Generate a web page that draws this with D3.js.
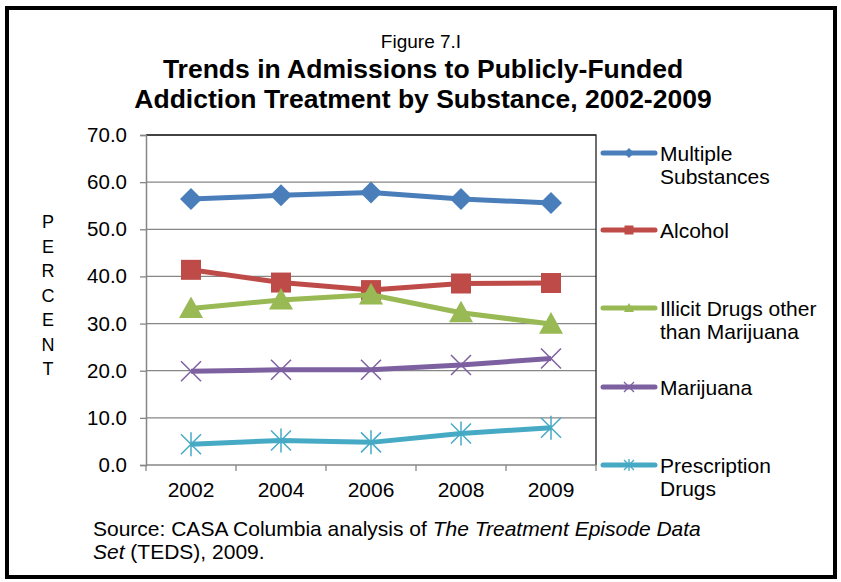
<!DOCTYPE html>
<html>
<head>
<meta charset="utf-8">
<script src="https://cdn.jsdelivr.net/npm/d3@7"></script>
<style>
  body { margin: 0; background: #fff; }
  svg { font-family: "Liberation Sans", Arial, sans-serif; }
</style>
</head>
<body>
<svg id="chart" width="841" height="582"></svg>
<script>
// data
var years = ["2002", "2004", "2006", "2008", "2009"];
var multiple = [56.4, 57.2, 57.8, 56.4, 55.6];
var alcohol = [41.4, 38.7, 37.1, 38.5, 38.6];
var illicit = [33.2, 35.0, 36.1, 32.3, 29.9];
var marijuana = [19.9, 20.2, 20.2, 21.2, 22.6];
var prescription = [4.4, 5.2, 4.8, 6.7, 7.9];
var yTicks = [0, 10, 20, 30, 40, 50, 60, 70];

var series = [
  {name: ["Multiple", "Substances"], values: multiple, color: "#4a7ebb", marker: "diamond"},
  {name: ["Alcohol"], values: alcohol, color: "#be4b48", marker: "square"},
  {name: ["Illicit Drugs other", "than Marijuana"], values: illicit, color: "#98b954", marker: "triangle"},
  {name: ["Marijuana"], values: marijuana, color: "#7d60a0", marker: "x"},
  {name: ["Prescription", "Drugs"], values: prescription, color: "#46aac5", marker: "star"}
];

var svg = d3.select("#chart");
var plot = {left: 146, right: 596, top: 135, bottom: 465};
var fs = 21; // body text size

// outer frame
svg.append("rect").attr("x", 7).attr("y", 8).attr("width", 828).attr("height", 569)
  .attr("fill", "none").attr("stroke", "#000").attr("stroke-width", 4);

// titles
svg.append("text").attr("x", 421).attr("y", 48).attr("text-anchor", "middle")
  .attr("font-size", 19).text("Figure 7.I");
svg.append("text").attr("x", 423).attr("y", 78).attr("text-anchor", "middle")
  .attr("font-size", 26.5).attr("font-weight", "bold").text("Trends in Admissions to Publicly-Funded");
svg.append("text").attr("x", 423).attr("y", 108).attr("text-anchor", "middle")
  .attr("font-size", 26.5).attr("font-weight", "bold").text("Addiction Treatment by Substance, 2002-2009");

var x = d3.scaleBand().domain(years).range([plot.left, plot.right]);
var y = d3.scaleLinear().domain([0, 70]).range([plot.bottom, plot.top]);

// gridlines
svg.append("g").selectAll("line").data(yTicks.slice(1)).enter().append("line")
  .attr("x1", plot.left).attr("x2", plot.right)
  .attr("y1", function(d){ return y(d); }).attr("y2", function(d){ return y(d); })
  .attr("stroke", "#868686").attr("stroke-width", 1.3);

// plot area border top/right
svg.append("path")
  .attr("d", "M" + plot.left + "," + plot.top + "H" + plot.right + "V" + plot.bottom)
  .attr("fill", "none").attr("stroke", "#222").attr("stroke-width", 1.3);

// y axis
var yAxis = svg.append("g").attr("transform", "translate(" + plot.left + ",0)")
  .call(d3.axisLeft(y).tickValues(yTicks).tickFormat(d3.format(".1f")).tickSize(6).tickPadding(13));
yAxis.select(".domain").attr("stroke", "#868686").attr("stroke-width", 1.5);
yAxis.selectAll(".tick line").attr("stroke", "#868686").attr("stroke-width", 1.3);
yAxis.selectAll("text").attr("font-size", 20.5).attr("fill", "#000")
  .attr("font-family", "'Liberation Sans', Arial, sans-serif");

// x axis with ticks at category boundaries
var xAxisG = svg.append("g").attr("transform", "translate(0," + plot.bottom + ")");
xAxisG.append("line").attr("x1", plot.left).attr("x2", plot.right)
  .attr("stroke", "#868686").attr("stroke-width", 1.5);
var bounds = years.map(function(d){ return x(d); }).concat([x(years[years.length - 1]) + x.bandwidth()]);
xAxisG.selectAll(".tk").data(bounds).enter().append("line")
  .attr("x1", function(d){ return d; }).attr("x2", function(d){ return d; })
  .attr("y1", 0).attr("y2", 6).attr("stroke", "#868686").attr("stroke-width", 1.3);
xAxisG.selectAll("text").data(years).enter().append("text")
  .attr("x", function(d){ return x(d) + x.bandwidth() / 2; })
  .attr("y", 32).attr("text-anchor", "middle").attr("font-size", fs).text(function(d){ return d; });

// y title: stacked letters
svg.append("g").selectAll("text").data("PERCENT".split("")).enter().append("text")
  .attr("x", 48).attr("y", function(d, i){ return 228 + i * 24.5; })
  .attr("text-anchor", "middle").attr("font-size", 18).text(function(d){ return d; });

function markerPath(type, s) {
  var h = s / 2;
  if (type === "diamond") return "M0," + (-h) + "L" + h + ",0L0," + h + "L" + (-h) + ",0Z";
  if (type === "square") return "M" + (-h) + "," + (-h) + "H" + h + "V" + h + "H" + (-h) + "Z";
  if (type === "triangle") return "M0," + (-h) + "L" + h + "," + (h * 0.8) + "L" + (-h) + "," + (h * 0.8) + "Z";
  if (type === "x") return "M" + (-h) + "," + (-h) + "L" + h + "," + h + "M" + (-h) + "," + h + "L" + h + "," + (-h);
  return "M" + (-h) + "," + (-h) + "L" + h + "," + h + "M" + (-h) + "," + h + "L" + h + "," + (-h) +
    "M0," + (-h * 1.2) + "V" + (h * 1.2);
}

var line = d3.line()
  .x(function(d, i){ return x(years[i]) + x.bandwidth() / 2; })
  .y(function(d){ return y(d); });

series.forEach(function(s) {
  var g = svg.append("g");
  g.append("path").attr("d", line(s.values)).attr("fill", "none")
    .attr("stroke", s.color).attr("stroke-width", 5).attr("stroke-linejoin", "round");
  var stroked = (s.marker === "x" || s.marker === "star");
  var size = s.marker === "diamond" ? 22 : (s.marker === "square" ? 20 : (s.marker === "triangle" ? 24 : 20));
  g.selectAll("path.m").data(s.values).enter().append("path").attr("class", "m")
    .attr("transform", function(d, i){ return "translate(" + (x(years[i]) + x.bandwidth() / 2) + "," + y(d) + ")"; })
    .attr("d", markerPath(s.marker, size))
    .attr("fill", stroked ? "none" : s.color)
    .attr("stroke", s.color).attr("stroke-width", stroked ? 1.5 : 0);
});

// legend
var legendY = [153, 230, 308, 387, 465];
series.forEach(function(s, i) {
  var g = svg.append("g").attr("transform", "translate(0," + legendY[i] + ")");
  g.append("line").attr("x1", 603).attr("x2", 655).attr("stroke", s.color)
    .attr("stroke-width", 5).attr("stroke-linecap", "round");
  var stroked = (s.marker === "x" || s.marker === "star");
  g.append("path").attr("transform", "translate(629,0)")
    .attr("d", markerPath(s.marker, s.marker === "square" ? 9 : 10))
    .attr("fill", stroked ? "none" : s.color)
    .attr("stroke", s.color).attr("stroke-width", stroked ? 1.3 : 0);
  g.selectAll("text").data(s.name).enter().append("text")
    .attr("x", 660).attr("y", function(d, j){ return 7.5 + j * 23.5; })
    .attr("font-size", fs).text(function(d){ return d; });
});

// source note
var src1 = svg.append("text").attr("x", 93).attr("y", 536).attr("font-size", fs);
src1.append("tspan").text("Source: CASA Columbia analysis of ");
src1.append("tspan").attr("font-style", "italic").text("The Treatment Episode Data");
var src2 = svg.append("text").attr("x", 93).attr("y", 559).attr("font-size", fs);
src2.append("tspan").attr("font-style", "italic").text("Set");
src2.append("tspan").text(" (TEDS), 2009.");
</script>
</body>
</html>
